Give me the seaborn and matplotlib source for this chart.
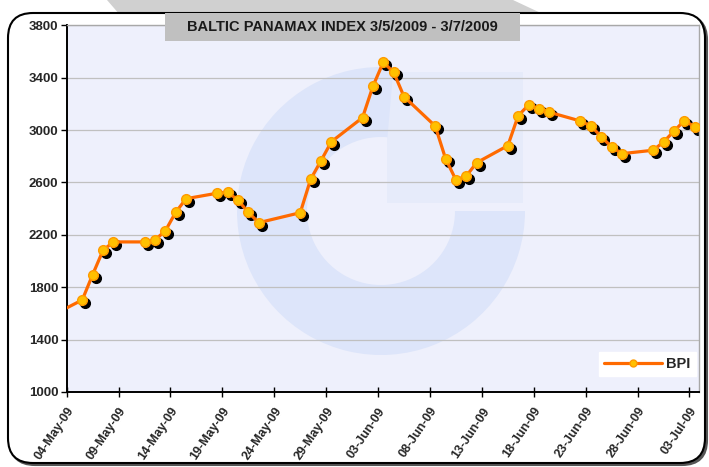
import matplotlib
matplotlib.use("Agg")
import matplotlib.pyplot as plt
import matplotlib.dates as mdates
from matplotlib.patches import FancyBboxPatch, Polygon, Wedge, Rectangle
from matplotlib.transforms import offset_copy
import pandas as pd
import seaborn as sns

# ── Data ─────────────────────────────────────────────────────────────────────
dates = [
    "2009-05-01", "2009-05-05", "2009-05-06", "2009-05-07", "2009-05-08",
    "2009-05-11", "2009-05-12", "2009-05-13", "2009-05-14", "2009-05-15",
    "2009-05-18", "2009-05-19", "2009-05-20", "2009-05-21", "2009-05-22",
    "2009-05-26", "2009-05-27", "2009-05-28", "2009-05-29",
    "2009-06-01", "2009-06-02", "2009-06-03", "2009-06-04", "2009-06-05",
    "2009-06-08", "2009-06-09", "2009-06-10", "2009-06-11", "2009-06-12",
    "2009-06-15", "2009-06-16", "2009-06-17", "2009-06-18", "2009-06-19",
    "2009-06-22", "2009-06-23", "2009-06-24", "2009-06-25", "2009-06-26",
    "2009-06-29", "2009-06-30", "2009-07-01", "2009-07-02", "2009-07-03",
]
bpi = [
    1540, 1703, 1896, 2082, 2146,
    2146, 2161, 2230, 2372, 2476,
    2518, 2527, 2464, 2372, 2293,
    2369, 2624, 2766, 2911,
    3095, 3334, 3518, 3441, 3255,
    3031, 2782, 2619, 2650, 2751,
    2881, 3110, 3192, 3163, 3136,
    3069, 3031, 2950, 2871, 2820,
    2846, 2909, 2991, 3072, 3026,
]
series_name = "BPI"
title = "BALTIC PANAMAX INDEX 3/5/2009 - 3/7/2009"
y_ticks = [1000, 1400, 1800, 2200, 2600, 3000, 3400, 3800]

# ── Style ────────────────────────────────────────────────────────────────────
sns.set_style("white")
plt.rcParams["font.family"] = ["Liberation Sans", "DejaVu Sans"]

LINE = "#FF6A00"
MARKER_FACE = "#FFC000"
MARKER_EDGE = "#FF9A00"
PLOT_BG = "#EEF0FC"

# Excel places the daily points mid-day between the date ticks
df = pd.DataFrame({"date": pd.to_datetime(dates) + pd.Timedelta(hours=12),
                   series_name: bpi})

fig = plt.figure(figsize=(7.09, 4.67), dpi=100, facecolor="white")
W, H = 709, 467
ax = fig.add_axes([66.7 / W, 1 - 392 / H, (699 - 66.7) / W, (392 - 25.3) / H])
ax.set_facecolor(PLOT_BG)

# ── Page decoration: grey wedge above, rounded chart frame ──────────────────
px = fig.dpi_scale_trans
fig.add_artist(Polygon([(1.07, 4.67), (5.13, 4.67), (5.45, 4.52), (1.20, 4.52)],
                       closed=True, transform=px, fc="#D0D0D0", ec="none", zorder=-3))
fig.add_artist(FancyBboxPatch((0.10, 0.02), 6.97, 4.50,
                              boxstyle="round,pad=0,rounding_size=0.25",
                              transform=px, fc="#555555", ec="#555555", lw=1.5, zorder=-2))
fig.add_artist(FancyBboxPatch((0.08, 0.04), 6.97, 4.50,
                              boxstyle="round,pad=0,rounding_size=0.25",
                              transform=px, fc="white", ec="black", lw=1.5, zorder=-1))

# faint logo watermark inside the plot area
ax.add_patch(Wedge((3.81, 2.56), 1.44, 85, 360, width=0.70, transform=px,
                   fc="#DDE5FA", ec="none", zorder=0.2))
ax.add_patch(Rectangle((3.87, 2.64), 1.36, 1.31, transform=px,
                       fc="#E6EBFA", ec="none", zorder=0.1))

# ── Series ───────────────────────────────────────────────────────────────────
shadow = offset_copy(ax.transData, fig=fig, x=3, y=-3, units="dots")
ax.plot(df["date"], df[series_name], lw=0, marker="o", ms=7,
        color="black", transform=shadow, zorder=2)
sns.lineplot(data=df, x="date", y=series_name, ax=ax, color=LINE, lw=2.3,
             marker="o", markersize=7, markerfacecolor=MARKER_FACE,
             markeredgecolor=MARKER_EDGE, markeredgewidth=1,
             label=series_name, zorder=3)

# ── Axes ─────────────────────────────────────────────────────────────────────
ax.set_xlim(pd.Timestamp("2009-05-04"), pd.Timestamp("2009-07-03 22:00"))
ax.set_ylim(y_ticks[0], y_ticks[-1])
ax.set_yticks(y_ticks)
ax.set_xticks(pd.date_range("2009-05-04", "2009-07-03", freq="5D"))
ax.xaxis.set_major_formatter(mdates.DateFormatter("%d-%b-%y"))
ax.set_xlabel("")
ax.set_ylabel("")

ax.grid(axis="y", color="#C0C0C0", lw=0.9)
ax.set_axisbelow(True)

for side in ("left", "bottom"):
    ax.spines[side].set_color("black")
    ax.spines[side].set_linewidth(1.4)
for side in ("top", "right"):
    ax.spines[side].set_color("#A8A8A8")
    ax.spines[side].set_linewidth(1.0)

ax.tick_params(axis="y", direction="out", length=4, width=1, color="black",
               labelsize=9.5, pad=2, left=True)
ax.tick_params(axis="x", direction="inout", length=7, width=1, color="black",
               labelsize=9, pad=6, bottom=True)
for lab in ax.get_yticklabels():
    lab.set_fontweight("bold")
for lab in ax.get_xticklabels():
    lab.set_fontweight("bold")
    lab.set_rotation(56)
    lab.set_ha("right")
    lab.set_rotation_mode("anchor")

leg = ax.legend(loc="lower right", bbox_to_anchor=(0.995, 0.044),
                borderaxespad=0, frameon=True, fancybox=False,
                facecolor="white", edgecolor="white", framealpha=1,
                handlelength=4.0, handletextpad=0.3, borderpad=0.35,
                prop={"weight": "bold", "size": 10.5})
leg.legend_handles[0].set_markersize(5)

# ── Title box ────────────────────────────────────────────────────────────────
fig.add_artist(Rectangle((1.65, 4.26), 3.55, 0.28, transform=px,
                         fc="#C0C0C0", ec="none", zorder=5))
fig.text(3.425, 4.40, title, transform=px, ha="center", va="center",
         fontsize=10.5, fontweight="bold", color="#1A1A1A", zorder=6)

fig.savefig("out.png", dpi=100)
plt.close(fig)
